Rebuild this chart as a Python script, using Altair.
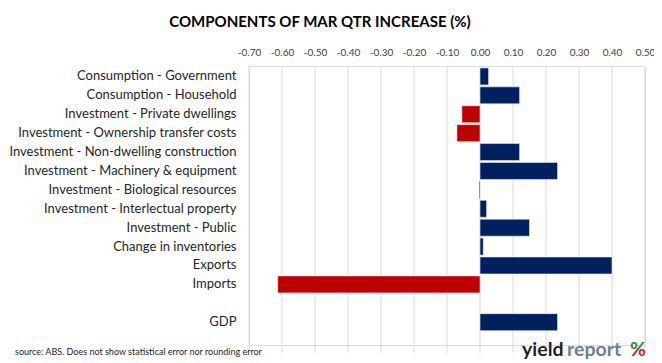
import altair as alt
import pandas as pd

categories = [
    "Consumption - Government",
    "Consumption - Household ",
    "Investment - Private dwellings",
    "Investment - Ownership transfer costs",
    "Investment - Non-dwelling construction",
    "Investment - Machinery & equipment",
    "Investment - Biological resources",
    "Investment - Interlectual property",
    "Investment - Public",
    "Change in inventories",
    "Exports",
    "Imports",
    "GDP",
]
values = [0.026, 0.12, -0.055, -0.07, 0.12, 0.235, -0.003, 0.02, 0.15, 0.01, 0.40, -0.613, 0.235]
row_order = categories[:12] + [" "] + ["GDP"]
x_ticks = [-0.7, -0.6, -0.5, -0.4, -0.3, -0.2, -0.1, 0.0, 0.1, 0.2, 0.3, 0.4, 0.5]

title_text = "COMPONENTS OF MAR QTR INCREASE (%)"
source_text = "source: ABS. Does not show statistical error nor rounding error"

df = pd.DataFrame({"category": categories, "value": values})
df["sign"] = ["neg" if v < 0 else "pos" for v in values]
grid_df = pd.DataFrame({"value": x_ticks})

FONT = "Lato"
W, H = 396, 279
XSCALE = alt.Scale(domain=[-0.7, 0.5], nice=False, zero=False)
XAXIS = alt.Axis(orient="top", values=x_ticks, title=None,
                 labelExpr="(datum.value < -0.0001 ? '-' : '') + format(abs(datum.value), '.2f')",
                 labelOverlap=False, labelFlush=False,
                 domain=False, ticks=False, grid=False,
                 labelFont=FONT, labelFontSize=10, labelColor="#404040",
                 labelPadding=9)

grid = alt.Chart(grid_df).mark_rule(color="#d9d9d9", strokeWidth=1).encode(
    x=alt.X("value:Q", scale=XSCALE, axis=XAXIS),
    y=alt.value(0),
    y2=alt.value(H + 8),
)

bars = alt.Chart(df).mark_bar(stroke="#e8ecf4", strokeWidth=0.6).encode(
    x=alt.X("value:Q", scale=XSCALE, axis=XAXIS),
    y=alt.Y("category:N",
            scale=alt.Scale(domain=row_order, paddingInner=0.1, paddingOuter=0.43, align=0.12),
            axis=alt.Axis(title=None, domain=False, ticks=False, grid=False,
                          labelFont=FONT, labelFontSize=13, labelColor="#262626",
                          labelPadding=13, labelLimit=300)),
    color=alt.Color("sign:N",
                    scale=alt.Scale(domain=["pos", "neg"], range=["#002060", "#c00000"]),
                    legend=None),
)

def txt(text, x, y, size, color, weight="normal", align="left"):
    return alt.Chart(pd.DataFrame({"t": [text]})).mark_text(
        font=FONT, fontSize=size, color=color, fontWeight=weight,
        align=align, baseline="alphabetic"
    ).encode(x=alt.value(x), y=alt.value(y), text="t:N")

pct_fill = alt.LinearGradient(
    gradient="linear", x1=0, y1=0, x2=0, y2=1,
    stops=[alt.GradientStop(offset=0, color="#2e8b3a"),
           alt.GradientStop(offset=0.5, color="#2e8b3a"),
           alt.GradientStop(offset=0.5, color="#c0282d"),
           alt.GradientStop(offset=1, color="#c0282d")],
)

title = txt(title_text, 71, -39, 15, "#000000", "bold", "center")
source = txt(source_text, -234, 289, 9, "#262626")
logo1 = txt("yield", 273, 290, 19.5, "#1f1f1f", "bold")
logo2 = txt("report", 318, 290, 19.5, "#6e7f90", "bold")
logo3 = txt("%", 381, 290, 19.5, pct_fill, "bold")

chart = alt.layer(grid, bars, title, source, logo1, logo2, logo3).properties(
    width=W, height=H,
    autosize=alt.AutoSizeParams(type="none"),
    padding={"left": 241, "top": 58, "right": 9, "bottom": 15},
).configure_view(stroke=None).configure(background="white")

chart.save("out.html", embed_options={"renderer": "svg", "actions": False})
